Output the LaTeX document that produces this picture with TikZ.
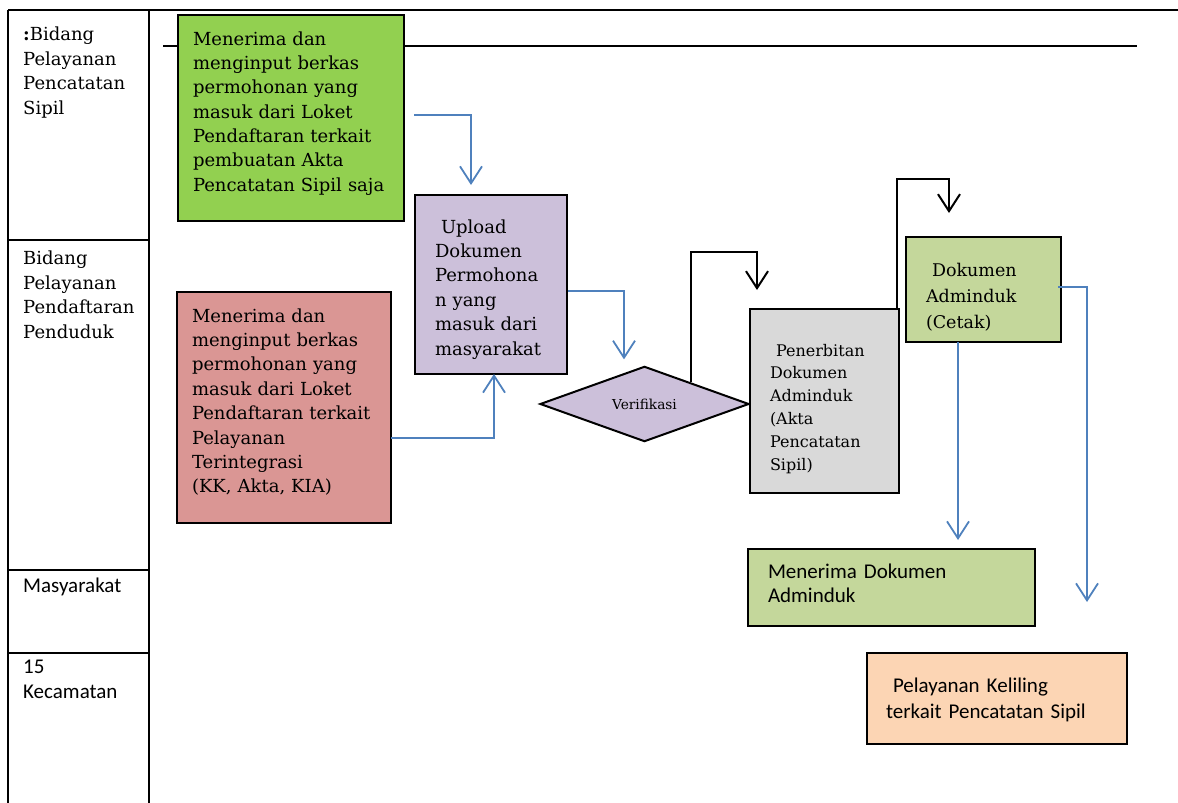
\documentclass[tikz,border=0pt]{standalone}
\usepackage{fontspec}
\setmainfont{DejaVu Serif}
\newfontfamily\calibfont{Carlito}
\usepackage{xcolor}
\usetikzlibrary{arrows.meta, shapes.geometric, positioning}

\definecolor{hijauTua}{HTML}{92D050}
\definecolor{merahMuda}{HTML}{DA9694}
\definecolor{ungu}{HTML}{CCC0DA}
\definecolor{abu}{HTML}{D9D9D9}
\definecolor{hijauMuda}{HTML}{C4D79B}
\definecolor{jingga}{HTML}{FCD5B4}
\definecolor{garisBiru}{HTML}{4F81BD}

\begin{document}
\begin{tikzpicture}[x=1pt, y=-1pt]
                \tikzstyle{box} = [draw, line width=2.2pt, anchor=north west, align=left, inner ysep=0pt, outer sep=0pt, font=\fontsize{18pt}{24.4pt}\selectfont];
                \tikzstyle{lane} = [anchor=north west, align=left, inner sep=0pt, font=\fontsize{18pt}{24.4pt}\selectfont];
                \tikzstyle{calib} = [font=\calibfont\fontsize{21pt}{24pt}\selectfont];
                \tikzstyle{flow} = [-{Straight Barb[length=17pt,width=22pt]}, line width=1.8pt, color=garisBiru];
                \tikzstyle{flowk} = [-{Straight Barb[length=17pt,width=22pt]}, line width=2pt, color=black];

                \useasboundingbox (0,0) rectangle (1178,803);

                \draw[line width=1.8pt] (8,10) -- (1178,10);
                \draw[line width=1.8pt] (8,10) -- (8,803);
                \draw[line width=1.8pt] (149,10) -- (149,803);
                \draw[line width=1.8pt] (8,240) -- (149,240);
                \draw[line width=1.8pt] (8,570) -- (149,570);
                \draw[line width=1.8pt] (8,653) -- (149,653);
                \draw[line width=2.5pt] (163,46) -- (1137,46);

                \node[lane] (lajur1) at (23,27) {\textbf{:}Bidang\\Pelayanan\\Pencatatan\\Sipil};
                \node[lane] (lajur2) at (23,251) {Bidang\\Pelayanan\\Pendaftaran\\Penduduk};
                \node[lane, calib] (lajur3) at (23,578) {Masyarakat};
                \node[lane, calib, font=\calibfont\fontsize{21pt}{25pt}\selectfont] (lajur4) at (23,660) {15\\Kecamatan};

                \node[box, fill=hijauTua, inner xsep=15pt, text width=196pt, text height=30pt, text depth=176pt] (terimaSipil) at (178,15)
                    {Menerima dan\\menginput berkas\\permohonan yang\\masuk dari Loket\\Pendaftaran terkait\\pembuatan Akta\\Pencatatan Sipil saja};
                \node[box, fill=merahMuda, inner xsep=15pt, text width=184pt, text height=30pt, text depth=201pt] (terimaDaftar) at (177,292)
                    {Menerima dan\\menginput berkas\\permohonan yang\\masuk dari Loket\\Pendaftaran terkait\\Pelayanan\\Terintegrasi\\(KK, Akta, KIA)};
                \node[box, fill=ungu, inner xsep=20pt, text width=112pt, text height=38pt, text depth=141pt] (upload) at (415,195)
                    {\hspace*{6pt}Upload\\Dokumen\\Permohona\\n yang\\masuk dari\\masyarakat};
                \node[diamond, draw, fill=ungu, line width=2pt, minimum width=209pt, minimum height=74pt, inner sep=0pt, font=\fontsize{13.7pt}{16pt}\selectfont] (verif) at (644.5,404) {Verifikasi};
                \node[box, fill=abu, inner xsep=20pt, text width=109pt, text height=47pt, text depth=137pt, font=\fontsize{16pt}{22.8pt}\selectfont] (terbit) at (750,309)
                    {\hspace*{6pt}Penerbitan\\Dokumen\\Adminduk\\(Akta\\Pencatatan\\Sipil)};
                \node[box, fill=hijauMuda, inner xsep=20pt, text width=115pt, text height=39pt, text depth=66pt, font=\fontsize{17.5pt}{26pt}\selectfont] (cetak) at (906,237)
                    {\hspace*{6pt}Dokumen\\Adminduk\\(Cetak)};
                \node[box, calib, fill=hijauMuda, inner xsep=20pt, text width=247pt, text height=29pt, text depth=48pt] (terimaDok) at (748,549)
                    {Menerima Dokumen\\Adminduk};
                \node[box, fill=jingga, inner xsep=19pt, text width=222pt, text height=39pt, text depth=52pt, font=\calibfont\fontsize{21pt}{26pt}\selectfont] (keliling) at (867,653)
                    {\hspace*{7pt}Pelayanan Keliling\\terkait Pencatatan Sipil};

                \draw[flow, shorten >=10pt] ([xshift=10pt,yshift=3pt]terimaSipil.east) -| ([xshift=-20pt]upload.north);
                \draw[flow] ([yshift=-30.5pt]terimaDaftar.east) -| ([xshift=3pt]upload.south);
                \draw[flow, shorten >=6pt] ([xshift=1pt,yshift=-6.5pt]upload.east) -| ([xshift=-20.5pt]verif.north);
                \draw[flowk, shorten >=19pt] ([xshift=-6.5pt,yshift=2.5pt]verif.north east) -- ++(0,-130) -| ([xshift=-67.5pt]terbit.north);
                \draw[flowk, shorten >=24pt] ([xshift=-2pt]terbit.north east) -- ++(0,-130) -| ([xshift=-34.5pt]cetak.north);
                \draw[flow, shorten >=9pt] ([xshift=-25.5pt]cetak.south) -- ([xshift=66.5pt]terimaDok.north);
                \draw[flow, shorten >=51pt] ([xshift=-3pt,yshift=2.5pt]cetak.east) -| ([xshift=90pt]keliling.north);
            \end{tikzpicture}
\end{document}
